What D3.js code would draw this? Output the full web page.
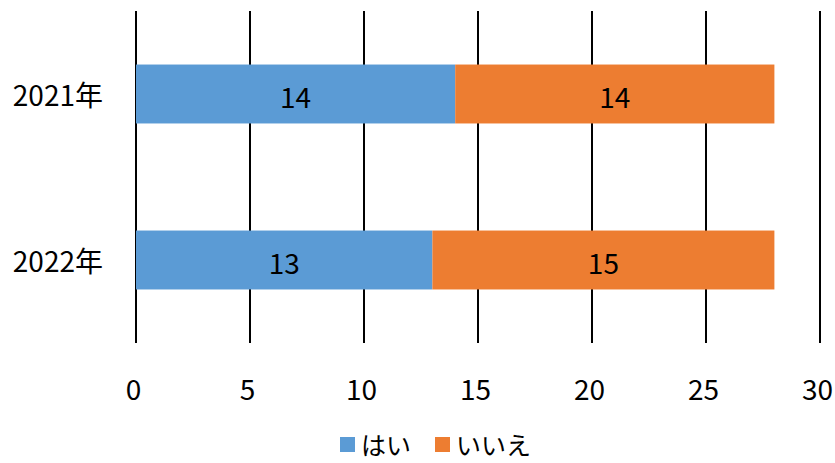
<!DOCTYPE html>
<html><head><meta charset="utf-8">
<script src="https://cdn.jsdelivr.net/npm/d3@7"></script>
<style>body{margin:0;background:#fff}svg{display:block}text{font-family:"Noto Sans CJK JP","Noto Sans",sans-serif;fill:#000}</style>
</head><body>
<script>
const categories = ["2021年", "2022年"];
const seriesNames = ["はい", "いいえ"];
const yesValues = [14, 13];
const noValues = [14, 15];
const xTicks = [0, 5, 10, 15, 20, 25, 30];
const colors = ["#5B9BD5", "#ED7D31"];

const W = 835, H = 463;
const margin = {left: 136, right: 15, top: 11, bottom: 120};
const FONT = '"Noto Sans CJK JP","Noto Sans",sans-serif';
const svg = d3.select("body").append("svg").attr("width", W).attr("height", H);

const x = d3.scaleLinear().domain([0, 30]).range([margin.left, W - margin.right]);
const y = d3.scaleBand().domain(categories).range([margin.top, H - margin.bottom]).paddingInner(0.645).paddingOuter(0.3225);

const rows = categories.map((c, i) => ({cat: c, はい: yesValues[i], いいえ: noValues[i]}));
const stack = d3.stack().keys(seriesNames)(rows);

// gridlines
svg.append("g").selectAll("line").data(xTicks).join("line")
  .attr("x1", d => x(d)).attr("x2", d => x(d))
  .attr("y1", margin.top).attr("y2", H - margin.bottom)
  .attr("stroke", "#000").attr("stroke-width", 2);

// bars
stack.forEach((s, si) => {
  const g = svg.append("g");
  g.selectAll("rect").data(s).join("rect")
    .attr("x", d => x(d[0])).attr("width", d => x(d[1]) - x(d[0]))
    .attr("y", d => y(d.data.cat)).attr("height", y.bandwidth())
    .attr("fill", colors[si]);
  g.selectAll("text").data(s).join("text")
    .attr("x", d => (x(d[0]) + x(d[1])) / 2)
    .attr("y", d => y(d.data.cat) + y.bandwidth() / 2 + 2)
    .attr("text-anchor", "middle").attr("dominant-baseline", "central")
    .attr("font-size", 28)
    .text(d => d[1] - d[0]);
});

// x axis labels
const xAxis = d3.axisBottom(x).tickValues(xTicks).tickSize(0).tickPadding(0);
const xg = svg.append("g").attr("transform", `translate(-3,${H - margin.bottom + 45})`).call(xAxis);
xg.select(".domain").remove();
xg.selectAll("text").attr("font-size", 28).attr("dominant-baseline", "central").attr("dy", null).attr("y", 0)
  .style("font-family", FONT);

// y axis labels
const yAxis = d3.axisLeft(y).tickSize(0).tickPadding(0);
const yg = svg.append("g").attr("transform", `translate(103,0)`).call(yAxis);
yg.select(".domain").remove();
yg.selectAll("text").attr("font-size", 28).attr("dominant-baseline", "central").attr("dy", null)
  .style("font-family", FONT);

// legend
const legend = svg.append("g");
const legendItems = [{name: seriesNames[0], x: 340}, {name: seriesNames[1], x: 435}];
legendItems.forEach((it, i) => {
  legend.append("rect").attr("x", it.x).attr("y", 437).attr("width", 15).attr("height", 15).attr("fill", colors[i]);
  legend.append("text").attr("x", it.x + 21).attr("y", 444).attr("dominant-baseline", "central")
    .attr("font-size", 25).text(it.name);
});
</script>
</body></html>
